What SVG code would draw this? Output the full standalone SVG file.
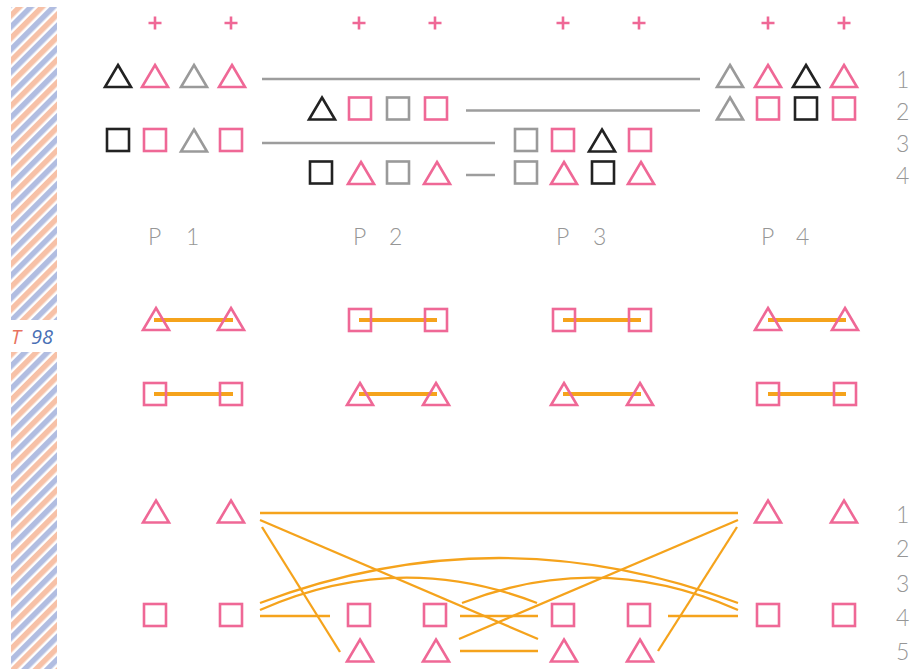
<svg xmlns="http://www.w3.org/2000/svg" xmlns:xlink="http://www.w3.org/1999/xlink" width="914" height="669" viewBox="0 0 914 669">
<style>
.pk{stroke:#ef6896}
.gy{stroke:#9a9a9a}
.bk{stroke:#222222}
.plus{stroke:#ef6896;stroke-width:2.6;fill:none}
.gl{stroke:#9d9d9d;stroke-width:2.5;fill:none}
.ol{stroke:#f5a31c;stroke-width:4;fill:none}
.ot{stroke:#f5a31c;stroke-width:2.3;fill:none}
.lbl{font-family:Lato,"Open Sans","Liberation Sans",sans-serif;font-weight:300;font-size:23px;fill:#969696}
.tag{font-family:"Open Sans","Liberation Sans",sans-serif;font-style:italic;font-size:20px}
</style>
<defs>
<pattern id="stripes" patternUnits="userSpaceOnUse" width="16" height="16" patternTransform="rotate(45)">
<rect x="0" y="0" width="16" height="16" fill="#ffffff"/>
<rect x="0" y="0" width="5.5" height="16" fill="#f7c1a7"/>
<rect x="8" y="0" width="5.5" height="16" fill="#b1bde1"/>
</pattern>
<path id="tri" d="M0,-11.5 L13,10.5 L-13,10.5 Z" fill="none" stroke-width="2.6" stroke-linejoin="miter"/>
<rect id="sq" x="-11" y="-11" width="22" height="22" fill="none" stroke-width="2.6"/>
<path id="plus" d="M-6.5,0 H6.5 M0,-6.5 V6.5"/>
</defs>

<g id="sidebar">
<rect x="11" y="7" width="46" height="313" fill="url(#stripes)"/>
<rect x="11" y="352" width="46" height="317" fill="url(#stripes)"/>
<text class="tag" x="11" y="344" fill="#e8735f">T</text>
<text class="tag" x="31" y="344" fill="#4a70b5">98</text>
</g>

<g id="plus-marks" class="plus">
<use xlink:href="#plus" x="155" y="23"/>
<use xlink:href="#plus" x="231" y="23"/>
<use xlink:href="#plus" x="359" y="23"/>
<use xlink:href="#plus" x="435" y="23"/>
<use xlink:href="#plus" x="563" y="23"/>
<use xlink:href="#plus" x="639" y="23"/>
<use xlink:href="#plus" x="768" y="23"/>
<use xlink:href="#plus" x="844" y="23"/>
</g>

<g id="connectors">
<g id="top-links" class="gl">
<line x1="262" y1="79" x2="700" y2="79"/>
<line x1="466" y1="110.5" x2="700" y2="110.5"/>
<line x1="262" y1="143" x2="495" y2="143"/>
<line x1="466" y1="175" x2="495" y2="175"/>
</g>
<g id="mid-links" class="ol">
<line x1="154" y1="320" x2="233" y2="320"/>
<line x1="154" y1="394" x2="233" y2="394"/>
<line x1="359" y1="320" x2="437" y2="320"/>
<line x1="359" y1="394" x2="437" y2="394"/>
<line x1="563" y1="320" x2="641" y2="320"/>
<line x1="563" y1="394" x2="641" y2="394"/>
<line x1="768" y1="320" x2="846" y2="320"/>
<line x1="768" y1="394" x2="846" y2="394"/>
</g>
<g id="bottom-links" class="ot">
<line x1="260" y1="513" x2="738" y2="513"/>
<line x1="260" y1="520" x2="538" y2="639"/>
<line x1="262" y1="527" x2="340" y2="652"/>
<line x1="738" y1="520" x2="459" y2="639"/>
<line x1="737" y1="527" x2="658" y2="651"/>
<path d="M260,603 Q499,513 738,603"/>
<path d="M260,610 Q398,549 537,603"/>
<path d="M462,603 Q600,549 738,610"/>
<line x1="260" y1="616" x2="330" y2="616"/>
<line x1="460" y1="616" x2="538" y2="616"/>
<line x1="668" y1="616" x2="738" y2="616"/>
<line x1="460" y1="651" x2="538" y2="651"/>
</g>
</g>

<g id="top-rows">
<g id="row1-p1">
<use xlink:href="#tri" class="bk" x="118" y="76.5"/>
<use xlink:href="#tri" class="pk" x="155" y="76.5"/>
<use xlink:href="#tri" class="gy" x="194" y="76.5"/>
<use xlink:href="#tri" class="pk" x="232" y="76.5"/>
</g>
<g id="row1-p4">
<use xlink:href="#tri" class="gy" x="730" y="76.5"/>
<use xlink:href="#tri" class="pk" x="768" y="76.5"/>
<use xlink:href="#tri" class="bk" x="806" y="76.5"/>
<use xlink:href="#tri" class="pk" x="844" y="76.5"/>
</g>
<g id="row2-p2">
<use xlink:href="#tri" class="bk" x="322" y="109"/>
<use xlink:href="#sq" class="pk" x="360" y="108.5"/>
<use xlink:href="#sq" class="gy" x="398" y="108.5"/>
<use xlink:href="#sq" class="pk" x="436" y="108.5"/>
</g>
<g id="row2-p4">
<use xlink:href="#tri" class="gy" x="730" y="109"/>
<use xlink:href="#sq" class="pk" x="768" y="108.5"/>
<use xlink:href="#sq" class="bk" x="806" y="108.5"/>
<use xlink:href="#sq" class="pk" x="844" y="108.5"/>
</g>
<g id="row3-p1">
<use xlink:href="#sq" class="bk" x="118" y="140"/>
<use xlink:href="#sq" class="pk" x="155" y="140"/>
<use xlink:href="#tri" class="gy" x="194" y="141"/>
<use xlink:href="#sq" class="pk" x="231" y="140"/>
</g>
<g id="row3-p3">
<use xlink:href="#sq" class="gy" x="526" y="140"/>
<use xlink:href="#sq" class="pk" x="563" y="140"/>
<use xlink:href="#tri" class="bk" x="602" y="141"/>
<use xlink:href="#sq" class="pk" x="640" y="140"/>
</g>
<g id="row4-p2">
<use xlink:href="#sq" class="bk" x="321" y="172.5"/>
<use xlink:href="#tri" class="pk" x="361" y="173.5"/>
<use xlink:href="#sq" class="gy" x="398" y="172.5"/>
<use xlink:href="#tri" class="pk" x="437" y="173.5"/>
</g>
<g id="row4-p3">
<use xlink:href="#sq" class="gy" x="526" y="172.5"/>
<use xlink:href="#tri" class="pk" x="564" y="173.5"/>
<use xlink:href="#sq" class="bk" x="603" y="172.5"/>
<use xlink:href="#tri" class="pk" x="641" y="173.5"/>
</g>
</g>

<g id="top-labels" class="lbl">
<text x="896" y="88">1</text>
<text x="896" y="120">2</text>
<text x="896" y="152">3</text>
<text x="896" y="184">4</text>
</g>

<g id="p-labels" class="lbl">
<text id="p1"><tspan x="148" y="245">P</tspan><tspan x="186" y="245">1</tspan></text>
<text id="p2"><tspan x="353" y="245">P</tspan><tspan x="389" y="245">2</tspan></text>
<text id="p3"><tspan x="556" y="245">P</tspan><tspan x="593" y="245">3</tspan></text>
<text id="p4"><tspan x="761" y="245">P</tspan><tspan x="796" y="245">4</tspan></text>
</g>

<g id="mid-rows">
<g id="m-p1a"><use xlink:href="#tri" class="pk" x="156" y="319.5"/><use xlink:href="#tri" class="pk" x="231" y="319.5"/></g>
<g id="m-p1b"><use xlink:href="#sq" class="pk" x="155" y="394"/><use xlink:href="#sq" class="pk" x="231" y="394"/></g>
<g id="m-p2a"><use xlink:href="#sq" class="pk" x="360" y="320"/><use xlink:href="#sq" class="pk" x="436" y="320"/></g>
<g id="m-p2b"><use xlink:href="#tri" class="pk" x="360" y="394.5"/><use xlink:href="#tri" class="pk" x="436" y="394.5"/></g>
<g id="m-p3a"><use xlink:href="#sq" class="pk" x="564" y="320"/><use xlink:href="#sq" class="pk" x="640" y="320"/></g>
<g id="m-p3b"><use xlink:href="#tri" class="pk" x="564" y="394.5"/><use xlink:href="#tri" class="pk" x="640" y="394.5"/></g>
<g id="m-p4a"><use xlink:href="#tri" class="pk" x="768" y="319.5"/><use xlink:href="#tri" class="pk" x="845" y="319.5"/></g>
<g id="m-p4b"><use xlink:href="#sq" class="pk" x="768" y="394"/><use xlink:href="#sq" class="pk" x="845" y="394"/></g>
</g>

<g id="bottom-rows">
<g id="b-row1">
<use xlink:href="#tri" class="pk" x="156" y="512"/>
<use xlink:href="#tri" class="pk" x="231" y="512"/>
<use xlink:href="#tri" class="pk" x="768" y="512"/>
<use xlink:href="#tri" class="pk" x="844" y="512"/>
</g>
<g id="b-row4">
<use xlink:href="#sq" class="pk" x="155" y="615"/>
<use xlink:href="#sq" class="pk" x="231" y="615"/>
<use xlink:href="#sq" class="pk" x="359" y="615"/>
<use xlink:href="#sq" class="pk" x="435" y="615"/>
<use xlink:href="#sq" class="pk" x="563" y="615"/>
<use xlink:href="#sq" class="pk" x="639" y="615"/>
<use xlink:href="#sq" class="pk" x="768" y="615"/>
<use xlink:href="#sq" class="pk" x="844" y="615"/>
</g>
<g id="b-row5">
<use xlink:href="#tri" class="pk" x="360" y="651"/>
<use xlink:href="#tri" class="pk" x="436" y="651"/>
<use xlink:href="#tri" class="pk" x="564" y="651"/>
<use xlink:href="#tri" class="pk" x="640" y="651"/>
</g>
</g>

<g id="bottom-labels" class="lbl">
<text x="896" y="523">1</text>
<text x="896" y="557">2</text>
<text x="896" y="592">3</text>
<text x="896" y="626">4</text>
<text x="896" y="660">5</text>
</g>
</svg>
